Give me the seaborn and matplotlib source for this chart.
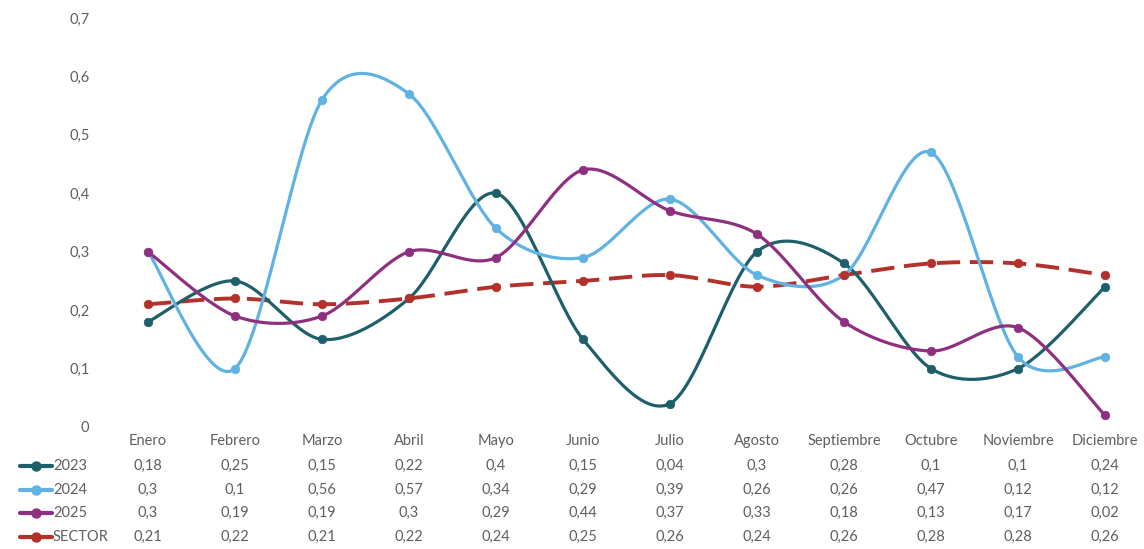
import numpy as np
import pandas as pd
import matplotlib
matplotlib.use("Agg")
import matplotlib.pyplot as plt
import matplotlib.transforms as mtrans
import seaborn as sns

months = ["Enero", "Febrero", "Marzo", "Abril", "Mayo", "Junio", "Julio",
          "Agosto", "Septiembre", "Octubre", "Noviembre", "Diciembre"]
s2023 = [0.18, 0.25, 0.15, 0.22, 0.4, 0.15, 0.04, 0.3, 0.28, 0.1, 0.1, 0.24]
s2024 = [0.3, 0.1, 0.56, 0.57, 0.34, 0.29, 0.39, 0.26, 0.26, 0.47, 0.12, 0.12]
s2025 = [0.3, 0.19, 0.19, 0.3, 0.29, 0.44, 0.37, 0.33, 0.18, 0.13, 0.17, 0.02]
sector = [0.21, 0.22, 0.21, 0.22, 0.24, 0.25, 0.26, 0.24, 0.26, 0.28, 0.28, 0.26]
series_names = ["2023", "2024", "2025", "SECTOR"]
yticks = [0, 0.1, 0.2, 0.3, 0.4, 0.5, 0.6, 0.7]

colors = {"2023": "#1d5f6a", "2024": "#5fb2e2", "2025": "#8e2f80", "SECTOR": "#b3302b"}

sns.set_theme(style="white")
plt.rcParams["font.family"] = ["Lato", "DejaVu Sans"]

W, H = 1144, 549
fig = plt.figure(figsize=(W / 100, H / 100), dpi=100)

x0px, dx = 148.0, 87.0
xl, xr = -0.45, 11.4
left_px = x0px + xl * dx
right_px = x0px + xr * dx
bot_px, top_px = 427.0, 18.0
ax = fig.add_axes([left_px / W, 1 - bot_px / H, (right_px - left_px) / W, (bot_px - top_px) / H])


def smooth(xs, ys, n=30, k=1 / 6.5):
    """Bezier smoothing of a polyline (display of an Excel smoothed line)."""
    xs = np.asarray(xs, float)
    ys = np.asarray(ys, float)
    px = np.concatenate([[xs[0]], xs, [xs[-1]]])
    py = np.concatenate([[ys[0]], ys, [ys[-1]]])
    ox, oy = [], []
    t = np.linspace(0, 1, n, endpoint=False)
    for i in range(1, len(px) - 2):
        p0, p1, p2, p3 = (np.array([px[j], py[j]]) for j in (i - 1, i, i + 1, i + 2))
        c1 = p1 + (p2 - p0) * k
        c2 = p2 - (p3 - p1) * k
        b = ((1 - t) ** 3)[:, None] * p1 + (3 * (1 - t) ** 2 * t)[:, None] * c1 \
            + (3 * (1 - t) * t ** 2)[:, None] * c2 + (t ** 3)[:, None] * p2
        ox.extend(b[:, 0]); oy.extend(b[:, 1])
    ox.append(xs[-1]); oy.append(ys[-1])
    return np.array(ox), np.array(oy)


data = {"2023": s2023, "2024": s2024, "2025": s2025, "SECTOR": sector}
xpos = np.arange(len(months))

for name in series_names:
    vals = data[name]
    sx, sy = smooth(xpos, vals)
    df = pd.DataFrame({"x": sx, "y": sy})
    if name == "SECTOR":
        sns.lineplot(data=df, x="x", y="y", ax=ax, color=colors[name], lw=2.8,
                     sort=False, estimator=None, zorder=2)
        ax.lines[-1].set_dashes((6, 2.5))
    else:
        sns.lineplot(data=df, x="x", y="y", ax=ax, color=colors[name], lw=2.3,
                     sort=False, estimator=None, zorder=3)
    mdf = pd.DataFrame({"x": xpos, "y": vals})
    sns.scatterplot(data=mdf, x="x", y="y", ax=ax, color=colors[name], s=38,
                    edgecolor=colors[name], linewidth=0.5, zorder=4)

ax.set_xlim(xl, xr)
ax.set_ylim(0, 0.7)
ax.set_xticks([])
ax.set_yticks(yticks)
ax.set_yticklabels([("%g" % v).replace(".", ",") for v in yticks], color="#5f5f5f", fontsize=10.5)
ax.tick_params(axis="y", length=0, pad=14)
ax.set_xlabel("")
ax.set_ylabel("")
for sp in ax.spines.values():
    sp.set_visible(False)
ax.grid(False)

# data table
tc = "#5f5f5f"
fs = 10.5
trans = mtrans.blended_transform_factory(ax.transData, fig.transFigure)
row_y = {"months": 441, "2023": 466, "2024": 490, "2025": 513, "SECTOR": 537}
for i, m in enumerate(months):
    ax.text(i, 1 - row_y["months"] / H, m, transform=trans, ha="center", va="center",
            fontsize=fs, color=tc, clip_on=False)
for name in series_names:
    yy = 1 - row_y[name] / H
    for i, v in enumerate(data[name]):
        ax.text(i, yy, ("%g" % v).replace(".", ","), transform=trans, ha="center",
                va="center", fontsize=fs, color=tc, clip_on=False)
    # legend key
    fig.add_artist(plt.Line2D([20 / W, 52 / W], [yy, yy], color=colors[name], lw=3,
                              transform=fig.transFigure))
    fig.add_artist(plt.Line2D([36 / W], [yy], color=colors[name], marker="o",
                              markersize=6.5, transform=fig.transFigure))
    fig.text(53 / W, yy, name, ha="left", va="center", fontsize=fs, color=tc)

fig.savefig("out.png", dpi=100, facecolor="white")
